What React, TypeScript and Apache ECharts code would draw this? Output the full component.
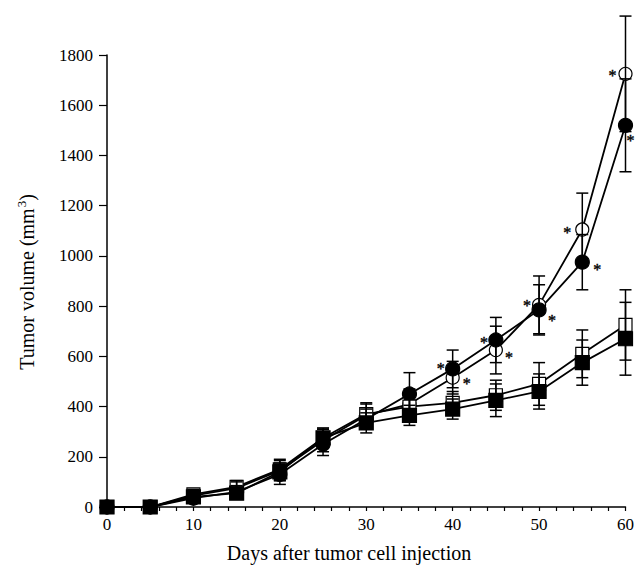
import React, { useEffect, useRef } from "react";
import * as echarts from "echarts";

const days = [0, 5, 10, 15, 20, 25, 30, 35, 40, 45, 50, 55, 60];

const openCircleMean = [0, 0, 45, 75, 145, 265, 365, 410, 515, 625, 805, 1105, 1725];
const openCircleErr = [0, 0, 20, 25, 40, 45, 45, 60, 65, 95, 115, 145, 230];

const filledCircleMean = [0, 0, 35, 60, 130, 250, 350, 450, 550, 665, 785, 975, 1520];
const filledCircleErr = [0, 0, 20, 25, 40, 45, 40, 85, 75, 90, 100, 110, 185];

const openSquareMean = [0, 0, 50, 80, 150, 275, 370, 400, 415, 445, 490, 610, 725];
const openSquareErr = [0, 0, 20, 25, 40, 40, 45, 45, 45, 60, 85, 95, 140];

const filledSquareMean = [0, 0, 40, 55, 140, 275, 335, 365, 390, 425, 460, 575, 670];
const filledSquareErr = [0, 0, 15, 20, 35, 35, 40, 40, 40, 65, 70, 90, 145];

// days at which a significance asterisk is shown
const openCircleStars = [40, 45, 50, 55, 60];
const filledCircleStars = [40, 45, 50, 55, 60];

const yTicks = [0, 200, 400, 600, 800, 1000, 1200, 1400, 1600, 1800];
const xLabels = [0, 10, 20, 30, 40, 50, 60];

const FONT = "'Liberation Serif', 'DejaVu Serif', serif";

// label offsets (style only)
const starOffsetOpen: Record<number, [number, number]> = {
  40: [14, 6],
  45: [13, 7],
  50: [-12, 1],
  55: [-15, 3],
  60: [-13, 2],
};
const starOffsetFilled: Record<number, [number, number]> = {
  40: [-12, 0],
  45: [-12, 2],
  50: [13, 11],
  55: [15, 7],
  60: [5, 15],
};

function buildLineData(mean: number[], stars: number[], offsets: Record<number, [number, number]>) {
  return days.map((d, i) => {
    if (stars.indexOf(d) >= 0) {
      return {
        value: [d, mean[i]],
        label: {
          show: true,
          formatter: "*",
          position: "inside",
          offset: offsets[d],
          fontSize: 16,
          color: "#000",
          textBorderColor: "#000",
          textBorderWidth: 0.4,
          fontFamily: FONT,
        },
      };
    }
    return { value: [d, mean[i]] };
  });
}

function errorSeries(mean: number[], err: number[]) {
  const data = days
    .map((d, i) => [d, mean[i] - err[i], mean[i] + err[i]])
    .filter((e) => e[2] > e[1]);
  return {
    type: "custom",
    data,
    clip: false,
    silent: true,
    z: 3,
    encode: { x: 0, y: [1, 2] },
    renderItem: (params: any, api: any) => {
      const x = api.value(0);
      const lo = api.coord([x, api.value(1)]);
      const hi = api.coord([x, api.value(2)]);
      const hw = 6;
      const st = { stroke: "#000", lineWidth: 1.5 };
      return {
        type: "group",
        children: [
          { type: "line", shape: { x1: lo[0], y1: lo[1], x2: hi[0], y2: hi[1] }, style: st },
          { type: "line", shape: { x1: lo[0] - hw, y1: lo[1], x2: lo[0] + hw, y2: lo[1] }, style: st },
          { type: "line", shape: { x1: hi[0] - hw, y1: hi[1], x2: hi[0] + hw, y2: hi[1] }, style: st },
        ],
      };
    },
  };
}

function lineSeries(name: string, data: any[], symbol: string, filled: boolean, size: number, z: number) {
  return {
    name,
    type: "line",
    data,
    symbol,
    symbolSize: size,
    showAllSymbol: true,
    z,
    color: "#000",
    lineStyle: { color: "#000", width: 1.8 },
    itemStyle: {
      color: filled ? "#000" : "#fff",
      borderColor: "#000",
      borderWidth: 1.2,
    },
    label: { show: false, color: "#000" },
    emphasis: { disabled: true },
  };
}

export default function App() {
  const ref = useRef<HTMLDivElement>(null);
  useEffect(() => {
    if (!ref.current) return;
    const chart = echarts.init(ref.current, undefined, { renderer: "svg" });
    chart.setOption({
      animation: false,
      backgroundColor: "#fff",
      grid: { left: 107, right: 10, top: 55, bottom: 59 },
      xAxis: {
        type: "value",
        min: 0,
        max: 60,
        interval: 2,
        axisLine: { show: true, lineStyle: { color: "#000", width: 1.5 } },
        axisTick: { show: true, length: 4, lineStyle: { color: "#000", width: 1.2 } },
        splitLine: { show: false },
        axisLabel: {
          color: "#000",
          fontFamily: FONT,
          fontSize: 17,
          margin: 9,
          formatter: (v: number) => (xLabels.indexOf(v) >= 0 ? String(v) : ""),
        },
      },
      yAxis: {
        type: "value",
        min: yTicks[0],
        max: yTicks[yTicks.length - 1],
        interval: 200,
        axisLine: { show: true, lineStyle: { color: "#000", width: 1.5 } },
        axisTick: { show: true, length: 8, lineStyle: { color: "#000", width: 1.2 } },
        splitLine: { show: false },
        axisLabel: {
          color: "#000",
          fontFamily: FONT,
          fontSize: 17,
          margin: 14,
          formatter: (v: number) => String(v),
        },
      },
      graphic: [
        {
          type: "text",
          x: 27,
          y: 282,
          rotation: Math.PI / 2,
          style: {
            text: "{a|Tumor volume (mm}{s|3}{a|)}",
            align: "center",
            verticalAlign: "middle",
            fill: "#000",
            rich: {
              a: { fontSize: 20, fontFamily: FONT, fill: "#000", lineHeight: 24 },
              s: { fontSize: 13, fontFamily: FONT, fill: "#000", verticalAlign: "top", lineHeight: 24, padding: [0, 0, 8, 1] },
            },
          },
        },
        {
          type: "text",
          x: 349,
          y: 553,
          style: {
            text: "Days after tumor cell injection",
            align: "center",
            verticalAlign: "middle",
            fontSize: 20,
            fontFamily: FONT,
            fill: "#000",
          },
        },
      ],
      series: [
        lineSeries("open circle", buildLineData(openCircleMean, openCircleStars, starOffsetOpen), "circle", false, 13, 2),
        lineSeries("filled circle", buildLineData(filledCircleMean, filledCircleStars, starOffsetFilled), "circle", true, 14, 2),
        lineSeries("open square", buildLineData(openSquareMean, [], {}), "rect", false, 13, 2),
        lineSeries("filled square", buildLineData(filledSquareMean, [], {}), "rect", true, 14, 2),
        errorSeries(openCircleMean, openCircleErr),
        errorSeries(filledCircleMean, filledCircleErr),
        errorSeries(openSquareMean, openSquareErr),
        errorSeries(filledSquareMean, filledSquareErr),
      ],
    });
    return () => chart.dispose();
  }, []);
  return (
    <div
      ref={ref}
      style={{ position: "fixed", left: 0, top: 0, width: 637, height: 566, background: "#fff" }}
    />
  );
}
